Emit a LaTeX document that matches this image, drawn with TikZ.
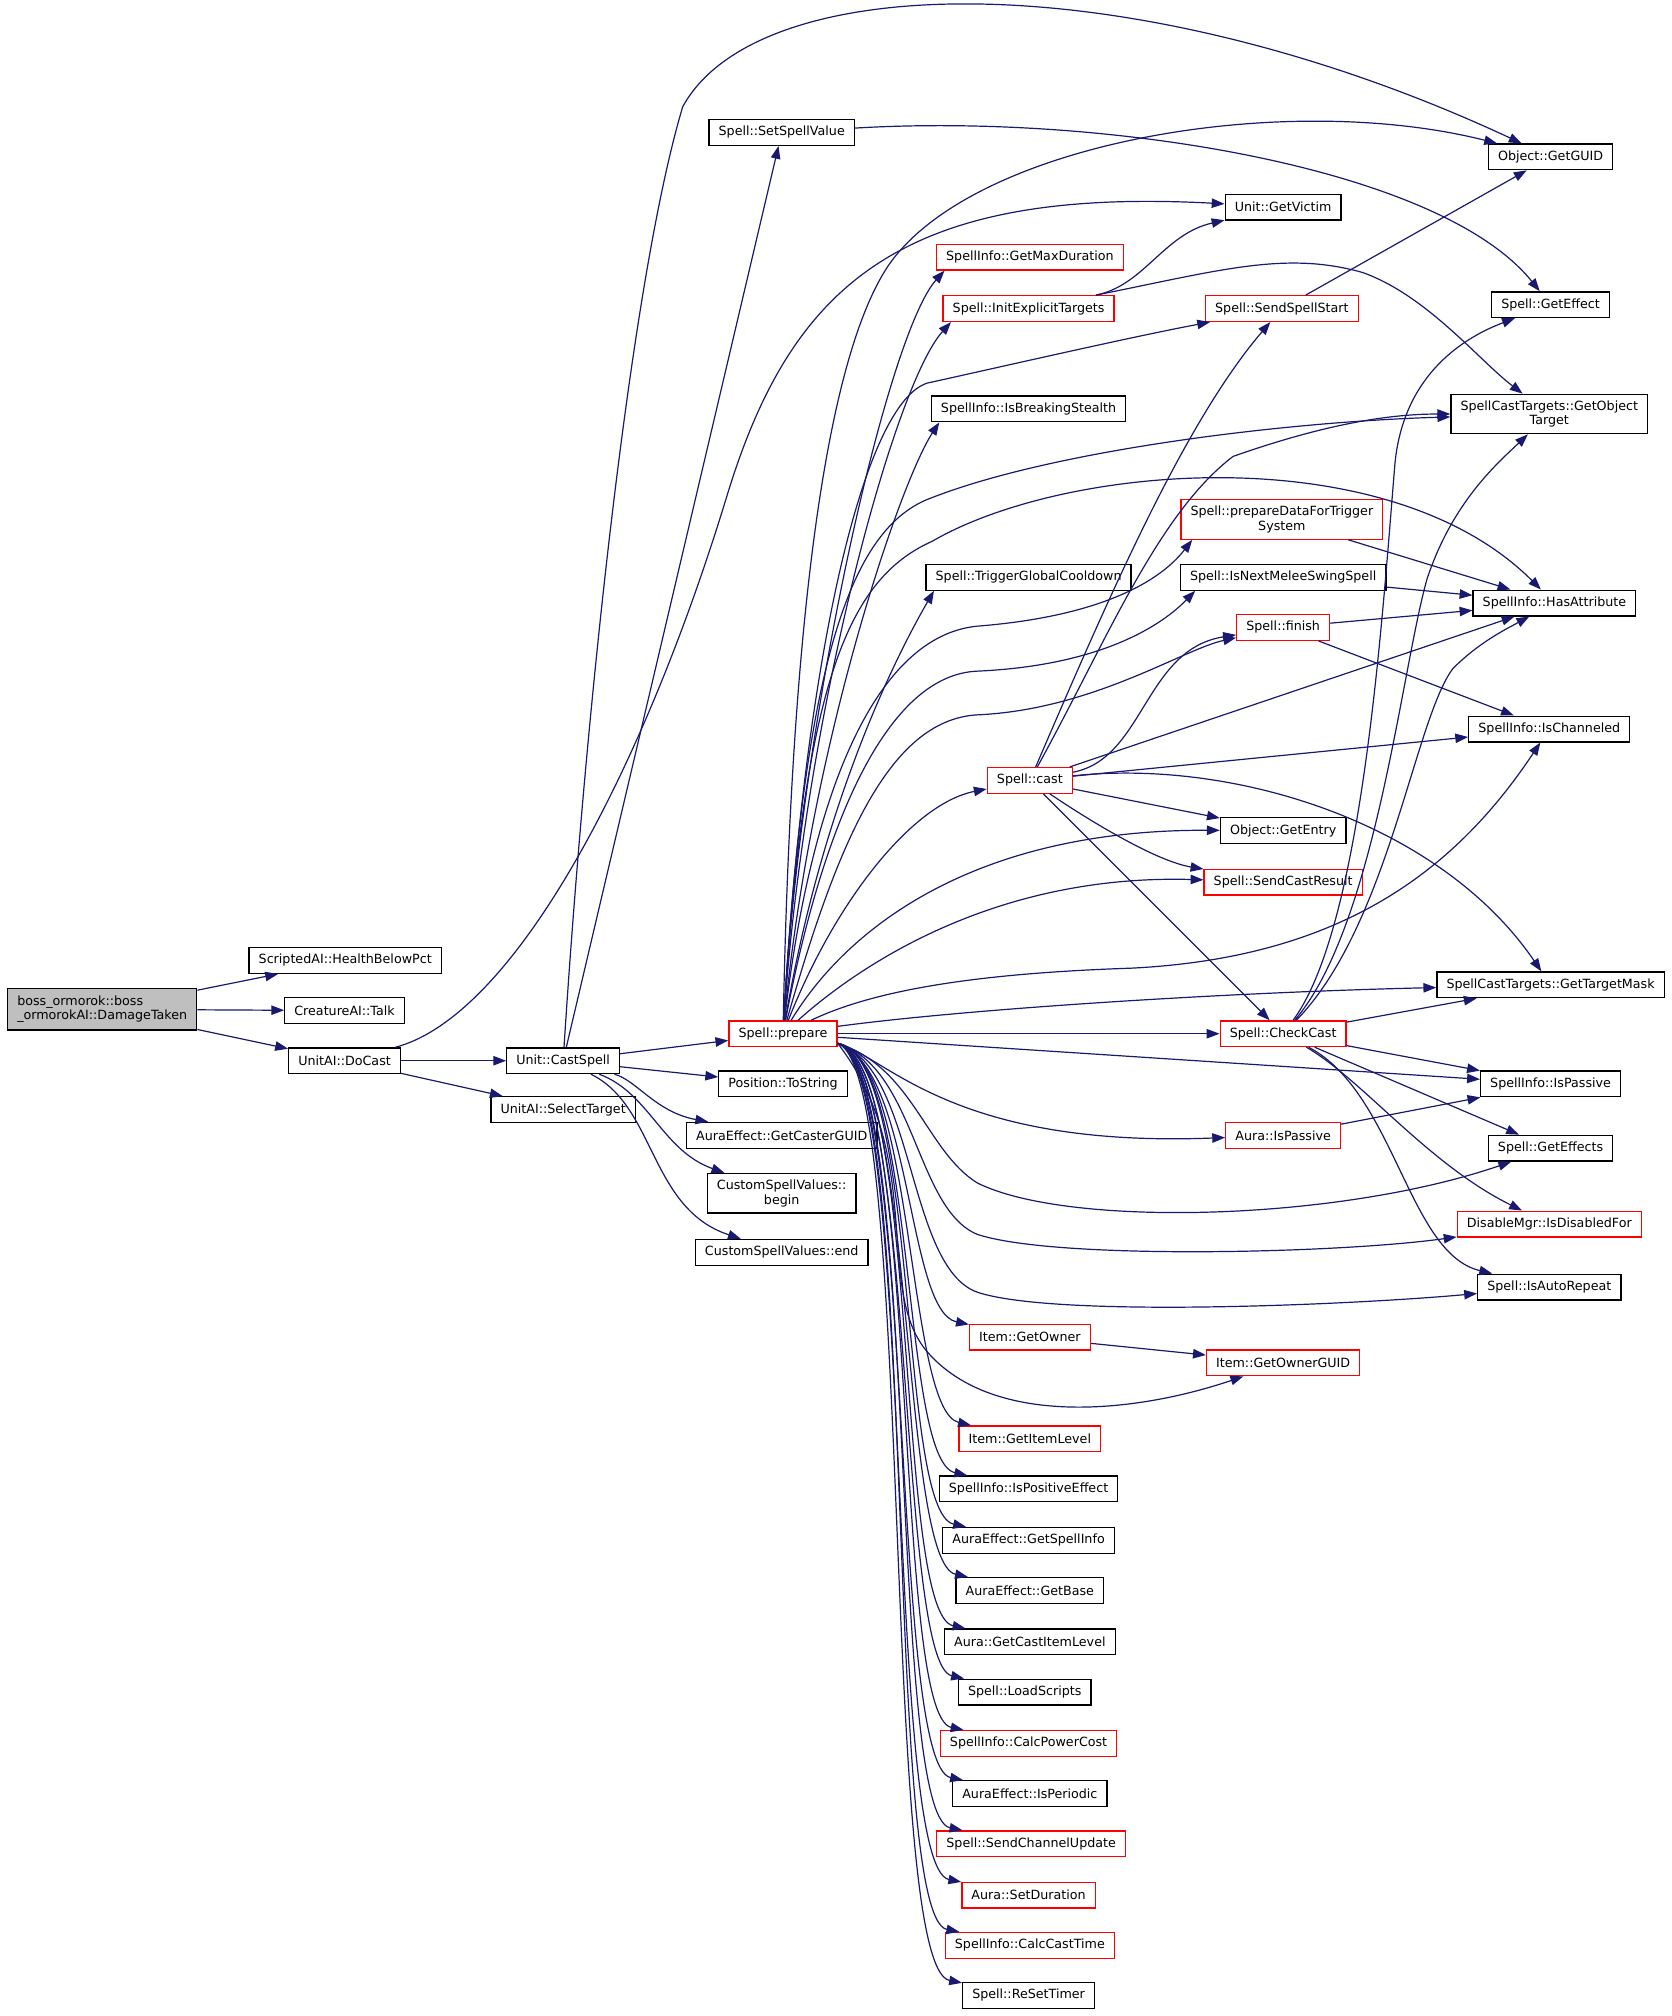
\documentclass[tikz,border=0pt]{standalone}
\usepackage{fontspec}
\setmainfont{DejaVu Sans}
\usepackage{xcolor}
\usetikzlibrary{arrows.meta}
\definecolor{edgeblue}{RGB}{25,25,112}
\definecolor{rootgray}{RGB}{191,191,191}
\tikzstyle{fn} = [draw=black, fill=white, line width=0.75pt, font=\fontsize{7.4}{8.6}\selectfont, inner xsep=5.6pt, inner ysep=1pt, minimum height=15pt]
\tikzstyle{fnred} = [fn, draw=red]
\tikzstyle{root} = [fn, fill=rootgray, align=left, minimum height=24pt]
\tikzstyle{two} = [align=center, minimum height=23pt]
\tikzstyle{call} = [draw=edgeblue, line width=0.7pt, -{Triangle[length=7.5pt,width=5.5pt]}]

\begin{document}
\begin{tikzpicture}[x=0.75pt, y=-0.75pt]
\useasboundingbox (0,0) rectangle (1300,1568);

% caller and first level
\node[root] (damage) at (79.5,785) {boss\_ormorok::boss\\\_ormorokAI::DamageTaken};
\node[fn] (healthbelow) at (268.5,747) {ScriptedAI::HealthBelowPct};
\node[fn] (talk) at (268,786) {CreatureAI::Talk};
\node[fn] (docast) at (268,825) {UnitAI::DoCast};
\node[fn] (castspell) at (438,825) {Unit::CastSpell};
\node[fn] (selecttarget) at (438,863) {UnitAI::SelectTarget};

% callees of Unit::CastSpell
\node[fn] (setspellvalue) at (608,103) {Spell::SetSpellValue};
\node[fnred] (prepare) at (609,804) {Spell::prepare};
\node[fn] (tostring) at (609,843) {Position::ToString};
\node[fn] (castercguid) at (608,883) {AuraEffect::GetCasterGUID};
\node[fn, two] (cvbegin) at (608,928) {CustomSpellValues::\\begin};
\node[fn] (cvend) at (608,974) {CustomSpellValues::end};

% callees of Spell::prepare
\node[fnred] (maxduration) at (801,200) {SpellInfo::GetMaxDuration};
\node[fnred] (initexplicit) at (800,240) {Spell::InitExplicitTargets};
\node[fn] (breakstealth) at (800,318) {SpellInfo::IsBreakingStealth};
\node[fn] (globalcd) at (800,449) {Spell::TriggerGlobalCooldown};
\node[fnred] (cast) at (801,607) {Spell::cast};
\node[fnred] (getowner) at (801,1040) {Item::GetOwner};
\node[fnred] (itemlevel) at (801,1119) {Item::GetItemLevel};
\node[fn] (positive) at (800,1158) {SpellInfo::IsPositiveEffect};
\node[fn] (getspellinfo) at (800,1198) {AuraEffect::GetSpellInfo};
\node[fn] (getbase) at (801,1237) {AuraEffect::GetBase};
\node[fn] (castitemlevel) at (801,1277) {Aura::GetCastItemLevel};
\node[fn] (loadscripts) at (797,1316) {Spell::LoadScripts};
\node[fnred] (powercost) at (800,1356) {SpellInfo::CalcPowerCost};
\node[fn] (periodic) at (801,1395) {AuraEffect::IsPeriodic};
\node[fnred] (channelupdate) at (802,1434) {Spell::SendChannelUpdate};
\node[fnred] (setduration) at (800,1474) {Aura::SetDuration};
\node[fnred] (casttime) at (801,1513) {SpellInfo::CalcCastTime};
\node[fn] (resettimer) at (800,1552) {Spell::ReSetTimer};

\node[fn] (getvictim) at (998,161) {Unit::GetVictim};
\node[fnred] (spellstart) at (997,240) {Spell::SendSpellStart};
\node[fnred, two] (prepdata) at (997,404) {Spell::prepareDataForTrigger\\System};
\node[fn] (nextmelee) at (998,449) {Spell::IsNextMeleeSwingSpell};
\node[fnred] (finish) at (998,488) {Spell::finish};
\node[fn] (getentry) at (998,646) {Object::GetEntry};
\node[fnred] (castresult) at (998,686) {Spell::SendCastResult};
\node[fnred] (checkcast) at (998,804) {Spell::CheckCast};
\node[fnred] (aurapassive) at (998,883) {Aura::IsPassive};
\node[fnred] (ownerguid) at (998,1060) {Item::GetOwnerGUID};

\node[fn] (getguid) at (1206,122) {Object::GetGUID};
\node[fn] (geteffect) at (1206,237) {Spell::GetEffect};
\node[fn, two] (objtarget) at (1205,322) {SpellCastTargets::GetObject\\Target};
\node[fn] (hasattr) at (1209,469) {SpellInfo::HasAttribute};
\node[fn] (channeled) at (1205,567) {SpellInfo::IsChanneled};
\node[fn] (targetmask) at (1206,766) {SpellCastTargets::GetTargetMask};
\node[fn] (ispassive) at (1206,843) {SpellInfo::IsPassive};
\node[fn] (geteffects) at (1206,893) {Spell::GetEffects};
\node[fnred] (disabled) at (1205,952) {DisableMgr::IsDisabledFor};
\node[fn] (autorepeat) at (1205,1001) {Spell::IsAutoRepeat};

% DamageTaken, DoCast, CastSpell
\draw[call] (damage) -- (healthbelow);
\draw[call] (damage) -- (talk);
\draw[call] (damage) -- (docast);
\draw[call] (docast) -- (castspell);
\draw[call] (docast) -- (selecttarget);
\draw[call] (docast) .. controls (400,790) and (500,600) .. (565,387)
    .. controls (615,222) and (700,145) .. (getvictim);
\draw[call] (castspell) .. controls (455,560) and (490,220) .. (531,83)
    .. controls (590,-25) and (880,-30) .. (getguid);
\draw[call] (castspell) -- (setspellvalue);
\draw[call] (castspell) -- (prepare);
\draw[call] (castspell) -- (tostring);
\draw[call] (castspell) .. controls (495,840) and (510,865) .. (castercguid);
\draw[call] (castspell) .. controls (505,850) and (515,895) .. (cvbegin);
\draw[call] (castspell) .. controls (510,860) and (505,940) .. (cvend);
\draw[call] (setspellvalue) .. controls (860,88) and (1120,130) .. (geteffect);

% Spell::prepare, upwards
\draw[call] (prepare) .. controls (615,500) and (640,280) .. (692,205)
    .. controls (760,110) and (1000,70) .. (getguid);
\draw[call] (prepare) .. controls (622,560) and (690,260) .. ([xshift=5pt]maxduration.south west);
\draw[call] (prepare) .. controls (625,560) and (695,300) .. ([xshift=5pt]initexplicit.south west);
\draw[call] (prepare) .. controls (625,520) and (670,315) .. (721,298)
    .. controls (780,285) and (880,262) .. (spellstart);
\draw[call] (prepare) .. controls (630,580) and (700,375) .. ([xshift=5pt]breakstealth.south west);
\draw[call] (prepare) .. controls (625,520) and (660,410) .. (725,387)
    .. controls (820,350) and (1000,328) .. (objtarget);
\draw[call] (prepare) .. controls (625,530) and (660,450) .. (725,421)
    .. controls (830,360) and (1080,340) .. (hasattr);
\draw[call] (prepare) .. controls (630,620) and (680,495) .. (760,487)
    .. controls (850,480) and (900,455) .. ([xshift=7pt]prepdata.south west);
\draw[call] (prepare) .. controls (640,620) and (700,505) .. ([xshift=5pt]globalcd.south west);
\draw[call] (prepare) .. controls (640,640) and (690,525) .. (760,522)
    .. controls (850,518) and (900,490) .. ([xshift=9pt]nextmelee.south west);
\draw[call] (prepare) .. controls (650,660) and (690,560) .. (760,556)
    .. controls (850,552) and (920,505) .. (finish);
\draw[call] (prepare) .. controls (650,700) and (710,625) .. (cast);
\draw[call] (prepare) .. controls (660,720) and (760,645) .. (getentry);
\draw[call] (prepare) .. controls (675,745) and (780,680) .. (castresult);
\draw[call] (prepare) .. controls (680,770) and (760,757) .. (880,753)
    .. controls (1040,745) and (1130,680) .. (channeled);
\draw[call] (prepare) .. controls (750,785) and (950,772) .. (targetmask);
\draw[call] (prepare) -- (checkcast);
\draw[call] (prepare) -- (ispassive);

% Spell::prepare, downwards
\draw[call] (prepare.-10) .. controls (690,822) and (740,893) .. (aurapassive);
\draw[call] (prepare.-10) .. controls (710,830) and (720,895) .. (760,920)
    .. controls (830,955) and (1040,950) .. (geteffects);
\draw[call] (prepare.-10) .. controls (712,830) and (712,940) .. (760,960)
    .. controls (820,980) and (1040,975) .. (disabled);
\draw[call] (prepare.-10) .. controls (712,830) and (705,985) .. (760,1005)
    .. controls (820,1025) and (1050,1015) .. (autorepeat);
\draw[call] (prepare.-10) .. controls (710,830) and (705,1020) .. (getowner);
\draw[call] (prepare.-10) .. controls (720,900) and (680,1000) .. (720,1050)
    .. controls (770,1110) and (880,1100) .. (ownerguid);
\draw[call] (prepare.-10) .. controls (712,822) and (705,1097) .. (itemlevel);
\draw[call] (prepare.-10) .. controls (714,822) and (700,1136) .. (positive);
\draw[call] (prepare.-10) .. controls (716,822) and (698,1176) .. (getspellinfo);
\draw[call] (prepare.-10) .. controls (712,824) and (700,1215) .. (getbase);
\draw[call] (prepare.-10) .. controls (716,824) and (696,1255) .. (castitemlevel);
\draw[call] (prepare.-10) .. controls (712,826) and (698,1294) .. (loadscripts);
\draw[call] (prepare.-10) .. controls (716,826) and (694,1334) .. (powercost);
\draw[call] (prepare.-10) .. controls (712,828) and (692,1373) .. (periodic);
\draw[call] (prepare.-10) .. controls (716,828) and (690,1412) .. (channelupdate);
\draw[call] (prepare.-10) .. controls (712,830) and (688,1452) .. (setduration);
\draw[call] (prepare.-10) .. controls (716,830) and (686,1491) .. (casttime);
\draw[call] (prepare.-10) .. controls (712,832) and (684,1530) .. (resettimer);

% InitExplicitTargets, SendSpellStart, finish and friends
\draw[call] (initexplicit) .. controls (890,222) and (905,182) .. (getvictim);
\draw[call] (initexplicit) .. controls (950,210) and (1000,195) .. (1060,212)
    .. controls (1110,230) and (1150,280) .. (objtarget);
\draw[call] (spellstart) -- (getguid);
\draw[call] (prepdata) -- (hasattr);
\draw[call] (nextmelee) -- (hasattr);
\draw[call] (finish) -- (hasattr);
\draw[call] (finish) -- (channeled);

% Spell::cast
\draw[call] (cast) .. controls (860,470) and (920,330) .. (spellstart);
\draw[call] (cast) .. controls (860,500) and (900,400) .. (959,355)
    .. controls (1030,330) and (1080,322) .. (objtarget);
\draw[call] (cast) .. controls (890,590) and (890,505) .. (finish);
\draw[call] (cast) -- (hasattr);
\draw[call] (cast) -- (channeled);
\draw[call] (cast) -- (getentry);
\draw[call] (cast) .. controls (850,640) and (900,670) .. (castresult);
\draw[call] (cast) -- (checkcast);
\draw[call] (cast) .. controls (960,590) and (1120,640) .. (targetmask);

% Spell::CheckCast
\draw[call] (checkcast) .. controls (1060,720) and (1075,480) .. (1085,360)
    .. controls (1092,290) and (1140,262) .. (geteffect);
\draw[call] (checkcast) .. controls (1070,720) and (1090,520) .. (1110,450)
    .. controls (1130,390) and (1165,360) .. (objtarget);
\draw[call] (checkcast) .. controls (1080,720) and (1100,560) .. (1130,520)
    .. controls (1150,500) and (1170,490) .. (hasattr);
\draw[call] (checkcast) -- (targetmask);
\draw[call] (checkcast) -- (ispassive);
\draw[call] (checkcast) -- (geteffects);
\draw[call] (checkcast) .. controls (1060,840) and (1110,905) .. (disabled);
\draw[call] (checkcast) .. controls (1085,850) and (1095,975) .. (autorepeat);

\draw[call] (aurapassive) -- (ispassive);
\draw[call] (getowner) -- (ownerguid);
\end{tikzpicture}
\end{document}
